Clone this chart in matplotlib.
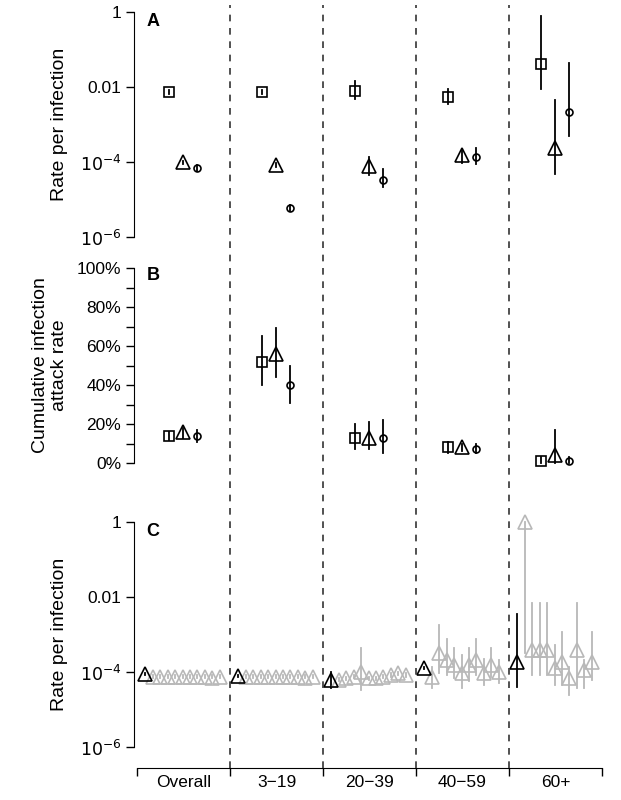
import numpy as np
import matplotlib
matplotlib.use("Agg")
import matplotlib.pyplot as plt
from matplotlib.lines import Line2D
from matplotlib.ticker import FixedLocator

plt.rcParams['font.family'] = ['Liberation Sans', 'DejaVu Sans']

groups = ["Overall", "3\u221219", "20\u221239", "40\u221259", "60+"]

# Panel A: log10 rate per infection (value, low, high) for square, triangle, circle
A_sq = [(-2.13, -2.08, -2.18), (-2.13, -2.08, -2.18), (-2.10, -1.85, -2.33), (-2.27, -2.05, -2.45), (-1.39, -0.11, -2.05)]
A_tr = [(-4.00, -3.97, -4.05), (-4.08, -4.03, -4.12), (-4.10, -3.87, -4.35), (-3.81, -3.65, -4.03), (-3.63, -2.35, -4.32)]
A_ci = [(-4.16, -4.08, -4.24), (-5.23, -5.15, -5.30), (-4.48, -4.19, -4.67), (-3.87, -3.63, -4.05), (-2.67, -1.36, -3.31)]

# Panel B: cumulative infection attack rate %, (value, low, high)
B_sq = [(14, 12, 16), (52, 40, 65), (13, 7, 20), (8, 5, 11), (1, 0, 3)]
B_tr = [(16, 13, 18), (56, 44, 69), (13, 7, 21), (8, 6, 10), (4, 0, 17)]
B_ci = [(14, 11, 17), (40, 31, 50), (13, 5, 22), (7, 5, 10), (1, 0, 3)]

# Panel C: black triangle (log10 value, low, high)
C_black = [(-4.05, -4.02, -4.08), (-4.1, -4.07, -4.13), (-4.21, -4.0, -4.43), (-3.89, -3.86, -3.92), (-3.73, -2.45, -4.4)]
# grey triangles: log10 values, lows, highs per group
C_grey = [
    [-4.12]*8 + [-4.15, -4.12],
    [-4.12]*8 + [-4.15, -4.12],
    [-4.21, -4.16, -4.13, -4.00, -4.16, -4.16, -4.13, -4.08, -4.03, -4.08],
    [-4.13, -3.50, -3.68, -3.81, -4.03, -3.81, -3.68, -4.03, -3.81, -3.99],
    [0.0, -3.40, -3.40, -3.40, -3.89, -3.72, -4.16, -3.40, -3.95, -3.72],
]
C_grey_hi = [
    [-4.08]*10,
    [-4.08]*10,
    [-4.16, -4.12, -4.08, -3.35, -4.12, -4.12, -4.08, -4.03, -3.99, -4.03],
    [-3.86, -2.75, -3.11, -3.37, -3.55, -3.37, -3.11, -3.64, -3.37, -3.68],
    [0.0, -2.17, -2.17, -2.17, -3.28, -2.93, -3.86, -2.17, -3.68, -2.93],
]
C_grey_lo = [
    [-4.16]*10,
    [-4.16]*10,
    [-4.25, -4.20, -4.17, -4.47, -4.20, -4.20, -4.17, -4.12, -4.07, -4.12],
    [-4.42, -4.03, -4.07, -4.16, -4.42, -4.25, -4.07, -4.35, -4.12, -4.30],
    [-3.50, -4.07, -4.07, -4.07, -4.35, -4.35, -4.60, -4.42, -4.42, -4.20],
]

fig = plt.figure(figsize=(6.21, 8.0), dpi=100)
L, R = 137/621, 602/621
axA = fig.add_axes([L, 1-237/800, R-L, 225/800])
axB = fig.add_axes([L, 1-463/800, R-L, 195/800])
axC = fig.add_axes([L, 1-747/800, R-L, 225/800])

off = {'sq': 0.34, 'tr': 0.49, 'ci': 0.64}
mk = {'sq': ('s', 7), 'tr': ('^', 10), 'ci': ('o', 5)}

def pt(ax, x, v, lo, hi, key, color='black', logv=True, lw=1.3):
    if logv:
        v, lo, hi = 10**v, 10**lo, 10**hi
    ax.plot([x, x], [lo, hi], color=color, lw=lw, zorder=2, clip_on=False)
    m, s = mk[key]
    ax.plot([x], [v], marker=m, ms=s, mfc='none', mec=color, mew=1.2, ls='none', zorder=3, clip_on=False)

for g in range(5):
    pt(axA, g+off['sq'], *A_sq[g], 'sq')
    pt(axA, g+off['tr'], *A_tr[g], 'tr')
    pt(axA, g+off['ci'], *A_ci[g], 'ci')
    pt(axB, g+off['sq'], *B_sq[g], 'sq', logv=False)
    pt(axB, g+off['tr'], *B_tr[g], 'tr', logv=False)
    pt(axB, g+off['ci'], *B_ci[g], 'ci', logv=False)
    for i in range(10):
        pt(axC, g+0.17+0.08*i, C_grey[g][i], C_grey_lo[g][i], C_grey_hi[g][i], 'tr', color='#b8b8b8', lw=1.3)
    pt(axC, g+0.09, *C_black[g], 'tr')

for ax in (axA, axC):
    ax.set_yscale('log')
    ax.set_ylim(1e-6, 1)
    ax.set_yticks([1e-6, 1e-4, 1e-2, 1])
    ax.set_yticklabels([r'$10^{-6}$', r'$10^{-4}$', '0.01', '1'])
    ax.yaxis.set_minor_locator(FixedLocator([]))
    ax.set_ylabel('Rate per infection', fontsize=14, labelpad=8)
axB.set_ylim(0, 100)
axB.set_yticks(range(0, 101, 20))
axB.set_yticklabels([f'{v}%' for v in range(0, 101, 20)])
axB.set_yticks(range(10, 100, 20), minor=True)
axB.set_ylabel('Cumulative infection\nattack rate', fontsize=14, labelpad=6)

for ax in (axA, axB, axC):
    ax.set_xlim(0, 5)
    for s in ('top', 'right', 'bottom'):
        ax.spines[s].set_visible(False)
    ax.spines['left'].set_position(('outward', 2))
    ax.tick_params(axis='y', labelsize=12.5, length=6, width=1)
    ax.tick_params(axis='y', which='minor', length=6, width=1)
    ax.set_xticks([])

axC.spines['bottom'].set_visible(True)
axC.spines['bottom'].set_position(('outward', 15))
axC.set_xticks(range(6))
axC.set_xticklabels([])
axC.set_xticks(np.arange(5)+0.5, minor=True)
axC.set_xticklabels(groups, minor=True, fontsize=12.5)
axC.tick_params(axis='x', which='major', length=6, width=1)
axC.tick_params(axis='x', which='minor', length=0, pad=5)

for ax, lab in ((axA, 'A'), (axB, 'B'), (axC, 'C')):
    ax.text(0.02, 0.96, lab, transform=ax.transAxes, fontsize=13, fontweight='bold', va='center')

for b in range(1, 5):
    xf = L + (R-L)*b/5
    fig.add_artist(Line2D([xf, xf], [1-768/800, 1-5/800], color='#333333', lw=1.2, ls=(0, (4, 4))))

fig.savefig('out.png', dpi=100)
